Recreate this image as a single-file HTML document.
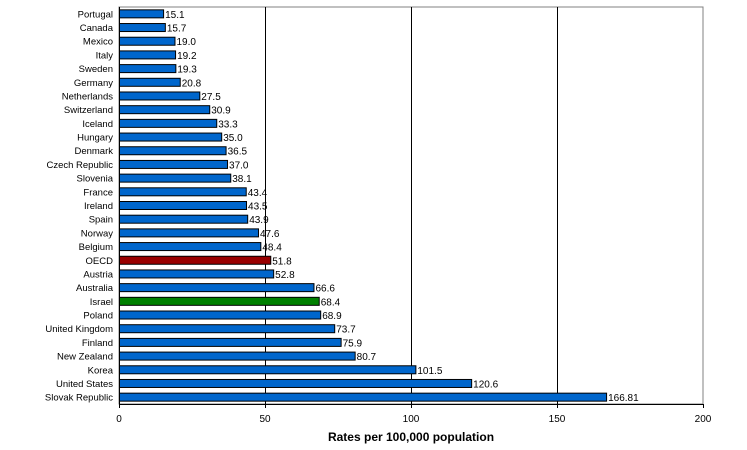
<!DOCTYPE html>
<html><head><meta charset="utf-8"><style>
body{margin:0;background:#fff;width:747px;height:445px;overflow:hidden}
svg{font-family:"Liberation Sans",Arial,sans-serif}
</style></head><body>
<svg id="chart" width="747" height="445" viewBox="0 0 747 445"></svg>
<script>
const categories=["Portugal","Canada","Mexico","Italy","Sweden","Germany","Netherlands","Switzerland","Iceland","Hungary","Denmark","Czech Republic","Slovenia","France","Ireland","Spain","Norway","Belgium","OECD","Austria","Australia","Israel","Poland","United Kingdom","Finland","New Zealand","Korea","United States","Slovak Republic"];
const values=[15.1,15.7,19.0,19.2,19.3,20.8,27.5,30.9,33.3,35.0,36.5,37.0,38.1,43.4,43.5,43.9,47.6,48.4,51.8,52.8,66.6,68.4,68.9,73.7,75.9,80.7,101.5,120.6,166.81];
const valueLabels=["15.1","15.7","19.0","19.2","19.3","20.8","27.5","30.9","33.3","35.0","36.5","37.0","38.1","43.4","43.5","43.9","47.6","48.4","51.8","52.8","66.6","68.4","68.9","73.7","75.9","80.7","101.5","120.6","166.81"];
const ticks=[0,50,100,150,200];
const L=119,R=703,T=7,B=404,xMax=200;
const NS="http://www.w3.org/2000/svg";
const svg=document.getElementById('chart');
const x=v=>L+(v/xMax)*(R-L);
const band=(B-T)/categories.length;
const y=i=>T+band*i;
function mk(t,a,p){const e=document.createElementNS(NS,t);for(const k in a)e.setAttribute(k,a[k]);(p||svg).appendChild(e);return e;}
const frame=mk('rect',{x:L,y:T,width:R-L,height:B-T,fill:'none',stroke:'#808080','stroke-width':1});


ticks.forEach(t=>{
  if(t>0&&t<xMax){const g=mk('line',{x1:x(t)+0.5,x2:x(t)+0.5,y1:T,y2:B,stroke:'#000','stroke-width':1});
  
  }
  const tk=mk('line',{x1:x(t)+0.5,x2:x(t)+0.5,y1:B,y2:B+4,stroke:'#000'});
  
  
  const tl=mk('text',{x:x(t),y:B+18,'font-size':10,'text-anchor':'middle'});tl.textContent=t;
  
  
});
categories.forEach((c,i)=>{
  const cy=y(i)+band/2;
  const col=c==='OECD'?'#990000':(c==='Israel'?'#008000':'#0066cc');
  const r=mk('rect',{x:L+0.5,y:cy-4,width:x(values[i])-L,height:8,fill:col,stroke:'#000','stroke-width':1});
  
  
  const lb=mk('text',{x:L-6,y:cy+3.5,'font-size':9.5,'text-anchor':'end'});lb.textContent=c;
  
  
  const vl=mk('text',{x:x(values[i])+2,y:cy+4,'font-size':10});vl.textContent=valueLabels[i];
  
  
});
const ax=mk('line',{x1:L+0.5,x2:L+0.5,y1:T,y2:B,stroke:'#000'});


const bx=mk('line',{x1:L,x2:R,y1:B+0.5,y2:B+0.5,stroke:'#000'});


const title=mk('text',{x:411,y:441,'font-size':12,'font-weight':'bold','text-anchor':'middle'});title.textContent='Rates per 100,000 population';


</script>
</body></html>
